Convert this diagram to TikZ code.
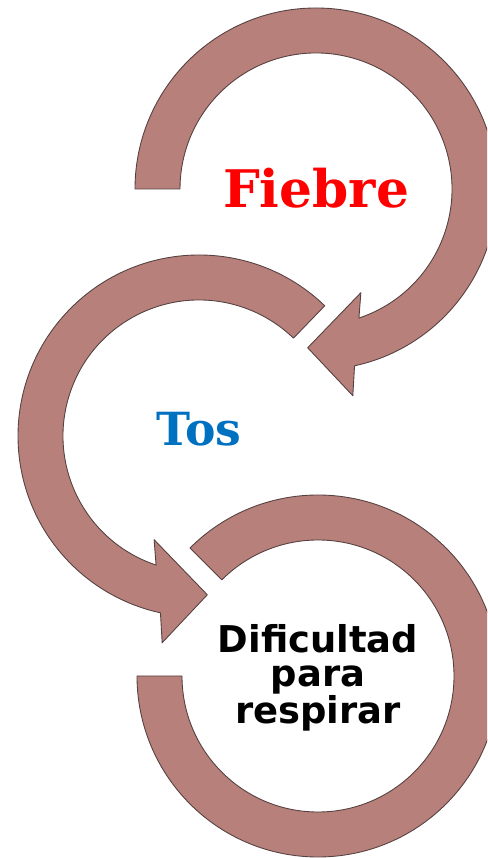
\documentclass[tikz,border=0pt]{standalone}
\usepackage{fontspec}
\setmainfont{DejaVu Serif}
\setsansfont{DejaVu Sans}
\usepackage{xcolor}
\usepackage{tikz}
\usetikzlibrary{positioning, calc}
\definecolor{arrowrose}{RGB}{183, 128, 122}
\definecolor{edgegray}{RGB}{85, 65, 65}
\definecolor{fiebrered}{RGB}{255, 0, 0}
\definecolor{tosblue}{RGB}{0, 112, 192}

\begin{document}
\begin{tikzpicture}[x=0.02cm, y=0.02cm,
    band/.style={fill=arrowrose, draw=edgegray, line width=0.5pt, line join=round},
    label/.style={inner sep=0pt, align=center, font=\bfseries}]
    \clip (0,0) rectangle (487,858);

    % centres of the three rings
    \coordinate (ring1) at (316,669);
    \coordinate (ring2) at (199,422);
    \coordinate (ring3) at (318,182);

    % top ring, head pointing to the middle one
    \draw[band, shift={(ring1)}] (180:181) arc[start angle=180, end angle=-77.7, radius=181]
        -- (-79.9:210) -- (-93:159) -- (-66.6:113) -- (-71.6:136)
        arc[start angle=-71.6, end angle=180, radius=136] -- cycle;

    % middle ring, head pointing to the bottom one
    \draw[band, shift={(ring2)}] (46:181) arc[start angle=46, end angle=257.7, radius=181]
        -- (259.9:210) -- (273:159) -- (246.6:113) -- (251.6:136)
        arc[start angle=251.6, end angle=46, radius=136] -- cycle;

    % bottom ring, no head
    \draw[band, shift={(ring3)}] (135:181) arc[start angle=135, end angle=-180, radius=181]
        -- (-180:136) arc[start angle=-180, end angle=135, radius=136] -- cycle;

    \node[label, text=fiebrered, font=\bfseries\fontsize{29.5}{30}\selectfont] (fiebre) at ($(ring1)+(0,1)$) {Fiebre};
    \node[label, text=tosblue, font=\bfseries\fontsize{26}{28}\selectfont] (tos) at ($(ring2)+(0,7)$) {Tos};
    \node[label, font=\sffamily\bfseries\fontsize{21}{19}\selectfont] (dificultad) at ($(ring3)+(0,-2)$) {Dificultad\\para\\respirar};
\end{tikzpicture}
\end{document}
